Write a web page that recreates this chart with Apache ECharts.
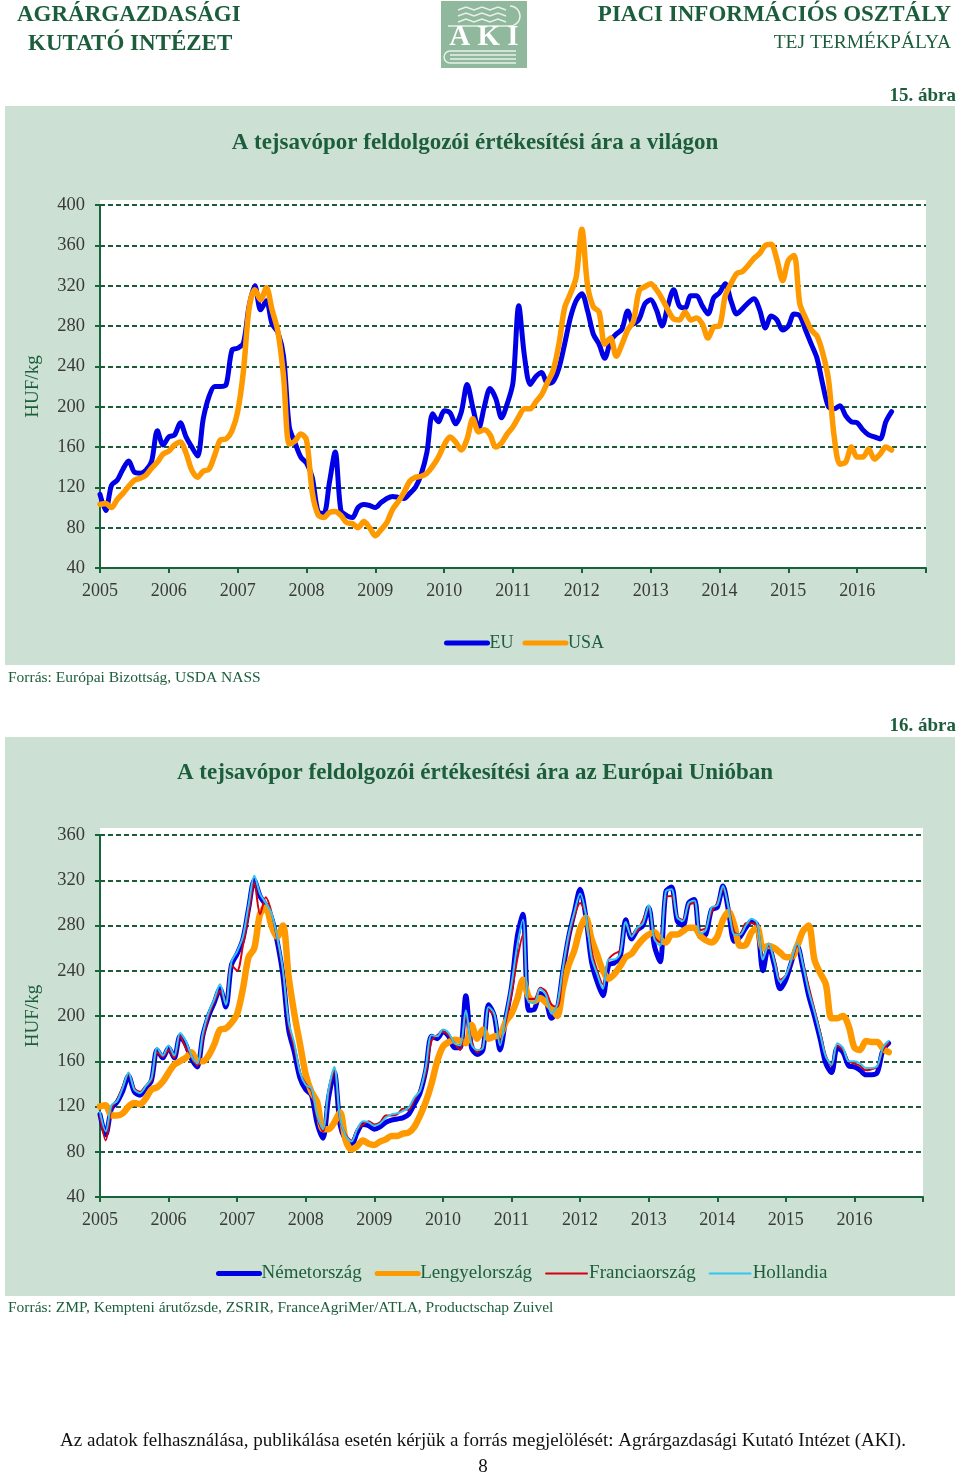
<!DOCTYPE html>
<html><head><meta charset="utf-8">
<script src="https://cdn.jsdelivr.net/npm/echarts@6/dist/echarts.min.js"></script>
<style>html,body{margin:0;padding:0;background:#fff}#c{width:960px;height:1476px}</style>
</head><body><div id="c"></div>
<script>
// ---- DATA (monthly, starting January 2005) ----
const startYear = 2005;
const yearLabels = [2005, 2006, 2007, 2008, 2009, 2010, 2011, 2012, 2013, 2014, 2015, 2016];

// Chart 15: world prices, HUF/kg
const euPrices = [
 113, 97, 122, 127, 138, 146, 135, 134, 137, 146, 176, 162,
 170, 172, 184, 170, 160, 151, 188, 210, 220, 220, 222, 256,
 258, 263, 300, 320, 296, 305, 282, 274, 250, 180, 164, 150,
 144, 130, 96, 94, 125, 155, 97, 92, 90, 100, 103, 102,
 100, 105, 109, 111, 110, 109, 114, 120, 133, 155, 193, 185,
 196, 194, 183, 195, 222, 199, 178, 200, 218, 208, 189, 203,
 224, 300, 250, 222, 230, 234, 223, 225, 238, 262, 288, 305,
 312, 295, 272, 262, 248, 265, 272, 277, 295, 282, 287, 302,
 306, 296, 280, 300, 316, 300, 298, 310, 310, 300, 292, 308,
 313, 322, 305, 292, 297, 303, 307, 296, 278, 290, 286, 276,
 280, 292, 290, 276, 262, 248, 222, 200, 198, 201, 191, 185,
 184, 177, 172, 170, 168, 185, 195
];
const usaPrices = [
 103, 104, 100, 108, 114, 121, 127, 129, 132, 139, 145, 153,
 156, 162, 165, 154, 137, 130, 136, 138, 152, 167, 168, 176,
 195, 235, 298, 316, 306, 318, 296, 275, 230, 163, 166, 173,
 167, 115, 93, 90, 95, 96, 92, 85, 84, 80, 86, 80,
 72, 78, 85, 98, 106, 115, 126, 130, 131, 134, 141, 150,
 162, 170, 165, 157, 168, 188, 175, 177, 172, 160, 164, 173,
 180, 190, 198, 198, 205, 212, 224, 236, 262, 298, 312, 328,
 376, 320, 299, 294, 262, 268, 250, 262, 276, 285, 315, 319,
 322, 316, 307, 296, 287, 286, 294, 286, 288, 282, 268, 279,
 280, 310, 322, 332, 334, 340, 347, 352, 360, 361, 346, 325,
 345, 350, 302, 288, 276, 270, 253, 227, 170, 143, 145, 160,
 150, 150, 158, 148, 153, 160, 157
];

// Chart 16: EU member state prices, HUF/kg
const germanyPrices = [
 113, 95, 118, 124, 134, 147, 133, 130, 136, 143, 170, 163,
 172, 163, 182, 175, 162, 155, 183, 200, 212, 224, 208, 245,
 255, 268, 295, 320, 306, 298, 287, 266, 236, 188, 168, 145,
 135, 130, 105, 92, 128, 150, 104, 90, 86, 97, 104, 103,
 100, 102, 106, 108, 109, 110, 113, 122, 132, 152, 182, 180,
 186, 182, 172, 172, 218, 172, 166, 170, 210, 200, 170, 198,
 226, 270, 290, 205, 206, 220, 214, 198, 206, 240, 270, 292,
 312, 288, 248, 230, 218, 245, 247, 252, 285, 268, 276, 280,
 296, 262, 248, 310, 314, 284, 280, 300, 303, 270, 272, 294,
 296, 315, 292, 266, 270, 278, 284, 280, 240, 262, 245, 224,
 232, 248, 262, 242, 218, 200, 180, 158, 150, 172, 168, 156,
 155, 152, 148, 148, 150, 170, 176
];
const polandPrices = [
 120, 121, 112, 112, 114, 120, 123, 122, 127, 135, 137, 142,
 150, 157, 160, 163, 168, 160, 160, 165, 175, 188, 189, 194,
 202, 224, 252, 260, 290, 296, 280, 270, 280, 235, 202, 175,
 148, 133, 124, 100, 100, 106, 115, 90, 82, 85, 90, 87,
 86, 89, 91, 94, 94, 96, 97, 102, 112, 124, 140, 160,
 173, 177, 179, 178, 176, 192, 180, 188, 180, 182, 183, 195,
 202, 215, 232, 217, 213, 216, 212, 207, 200, 225, 245, 258,
 277, 287, 268, 254, 240, 233, 237, 244, 252, 255, 262, 268,
 272, 274, 268, 265, 272, 272, 275, 278, 278, 271, 267, 265,
 270, 285, 292, 280, 262, 263, 274, 278, 260, 262, 260, 256,
 252, 252, 262, 275, 280, 250, 238, 228, 198, 198, 200, 191,
 172, 170, 178, 177, 177, 171, 168
];
const francePrices = [
 112, 90, 118, 126, 138, 148, 136, 133, 138, 143, 168, 164,
 170, 163, 182, 172, 165, 156, 180, 200, 213, 222, 212, 245,
 240, 262, 290, 318, 290, 305, 292, 268, 240, 192, 172, 150,
 140, 134, 110, 98, 132, 152, 108, 95, 90, 100, 104, 107,
 104, 106, 112, 112, 113, 118, 117, 126, 135, 150, 178, 183,
 186, 183, 176, 170, 200, 178, 168, 174, 205, 200, 178, 195,
 220, 250, 272, 215, 215, 225, 222, 210, 208, 240, 268, 288,
 300, 290, 258, 240, 228, 250, 255, 258, 282, 272, 275, 285,
 295, 270, 265, 305, 306, 288, 285, 298, 300, 276, 278, 292,
 300, 312, 296, 274, 272, 282, 282, 280, 252, 262, 250, 232,
 236, 248, 262, 246, 226, 206, 186, 165, 156, 174, 170, 160,
 158, 156, 152, 153, 155, 170, 176
];
const netherlandsPrices = [
 115, 98, 121, 125, 137, 150, 135, 132, 138, 145, 172, 165,
 174, 165, 185, 178, 165, 158, 185, 203, 215, 228, 210, 248,
 257, 270, 298, 324, 308, 300, 291, 270, 241, 195, 176, 150,
 139, 136, 112, 100, 135, 155, 110, 94, 89, 100, 107, 106,
 103, 105, 110, 113, 114, 116, 119, 128, 134, 155, 183, 182,
 188, 185, 176, 174, 205, 175, 170, 172, 208, 202, 174, 200,
 228, 262, 285, 212, 212, 224, 219, 202, 210, 243, 272, 292,
 308, 290, 252, 237, 224, 250, 250, 255, 283, 270, 278, 282,
 298, 268, 262, 310, 312, 287, 284, 300, 302, 273, 276, 296,
 298, 315, 295, 272, 272, 280, 286, 282, 250, 264, 248, 230,
 236, 250, 264, 245, 222, 204, 184, 164, 157, 176, 172, 160,
 160, 158, 154, 154, 156, 172, 178
];

// ---- helpers ----
function toPoints(arr) { return arr.map((v, i) => [startYear + i / 12, v]); }

const FONT = '"Liberation Serif", "Times New Roman", serif';
const DARK_GREEN = '#1c5e3c';
const AXIS_GREEN = '#17643c';
const LABEL_GRAY = '#3a3a3a';
const PANEL = '#cce0d3';
const C_BLUE = '#0000e6', C_ORANGE = '#ff9900', C_RED = '#d40010', C_CYAN = '#33c6f0';

function xAxisCfg(gridIndex) {
  return {
    type: 'value', gridIndex, min: 2005, max: 2017, interval: 1,
    axisLine: { show: true, lineStyle: { color: AXIS_GREEN, width: 2 } },
    axisTick: { show: true, inside: false, length: 5, lineStyle: { color: AXIS_GREEN, width: 2 } },
    axisLabel: {
      margin: 14, fontFamily: FONT, fontSize: 18, color: LABEL_GRAY,
      formatter: v => (yearLabels.indexOf(v) >= 0 ? String(v) : '')
    },
    splitLine: { show: false }
  };
}
function yAxisCfg(gridIndex, max) {
  return {
    type: 'value', gridIndex, min: 40, max: max, interval: 40,
    name: 'HUF/kg', nameLocation: 'middle', nameGap: 57, nameRotate: 90,
    nameTextStyle: { fontFamily: FONT, fontSize: 19, color: DARK_GREEN },
    axisLine: { show: true, lineStyle: { color: AXIS_GREEN, width: 2 } },
    axisTick: { show: true, inside: false, length: 5, lineStyle: { color: AXIS_GREEN, width: 2 } },
    axisLabel: { margin: 15, fontFamily: FONT, fontSize: 18.5, color: LABEL_GRAY },
    splitLine: { show: true, lineStyle: { color: '#1d5a3a', width: 2, type: [5, 3] } }
  };
}
function lineSeries(name, data, color, width, xi, yi) {
  return {
    name, type: 'line', xAxisIndex: xi, yAxisIndex: yi, data: toPoints(data),
    symbol: 'none', showSymbol: false, smooth: 0.3, animation: false,
    lineStyle: { color, width, cap: 'round', join: 'round' },
    itemStyle: { color }, emphasis: { disabled: true }
  };
}
function legendItem(name, color, width) {
  return { name, itemStyle: { opacity: 0 }, lineStyle: { color, width, cap: 'round' } };
}

const chart = echarts.init(document.getElementById('c'), null, { renderer: 'canvas' });

const graphics = [
  // header
  { type: 'text', left: 17, top: 4, style: { text: 'AGRÁRGAZDASÁGI', font: 'bold 23px ' + FONT, fill: DARK_GREEN } },
  { type: 'text', left: 28, top: 33, style: { text: 'KUTATÓ INTÉZET', font: 'bold 23px ' + FONT, fill: DARK_GREEN } },
  { type: 'text', right: 9, top: 4, style: { text: 'PIACI INFORMÁCIÓS OSZTÁLY', font: 'bold 23px ' + FONT, fill: DARK_GREEN } },
  { type: 'text', right: 9, top: 33, style: { text: 'TEJ TERMÉKPÁLYA', font: '19.5px ' + FONT, fill: DARK_GREEN } },
  // logo
  { type: 'rect', shape: { x: 441, y: 1, width: 86, height: 67 }, style: { fill: '#90b89c' } },
  { type: 'polyline', shape: { points: [[458, 10], [466, 7], [474, 10], [482, 7], [490, 10], [498, 7], [506, 10]] }, style: { stroke: '#e8f1ea', lineWidth: 1.5, fill: null } },
  { type: 'polyline', shape: { points: [[458, 16], [466, 13], [474, 16], [482, 13], [490, 16], [498, 13], [506, 16]] }, style: { stroke: '#e8f1ea', lineWidth: 1.5, fill: null } },
  { type: 'polyline', shape: { points: [[458, 22], [466, 19], [474, 22], [482, 19], [490, 22], [498, 19], [506, 22]] }, style: { stroke: '#e8f1ea', lineWidth: 1.5, fill: null } },
  { type: 'line', shape: { x1: 448, y1: 26, x2: 514, y2: 26 }, style: { stroke: '#e8f1ea', lineWidth: 1.5 } },
  { type: 'arc', shape: { cx: 510, cy: 16, r: 10, startAngle: -Math.PI / 2, endAngle: Math.PI / 2 }, style: { stroke: '#e8f1ea', lineWidth: 1.5, fill: null } },
  { type: 'text', x: 484, y: 38, style: { text: 'A K I', font: 'bold 29px ' + FONT, fill: '#ffffff', textAlign: 'center', textVerticalAlign: 'middle' } },
  { type: 'line', shape: { x1: 450, y1: 51, x2: 516, y2: 51 }, style: { stroke: '#e8f1ea', lineWidth: 1.5 } },
  { type: 'line', shape: { x1: 450, y1: 55, x2: 516, y2: 55 }, style: { stroke: '#e8f1ea', lineWidth: 1.5 } },
  { type: 'line', shape: { x1: 450, y1: 59, x2: 516, y2: 59 }, style: { stroke: '#e8f1ea', lineWidth: 1.5 } },
  { type: 'line', shape: { x1: 450, y1: 63, x2: 516, y2: 63 }, style: { stroke: '#e8f1ea', lineWidth: 1.5 } },
  { type: 'arc', shape: { cx: 450, cy: 57, r: 6, startAngle: Math.PI / 2, endAngle: 3 * Math.PI / 2 }, style: { stroke: '#e8f1ea', lineWidth: 1.5, fill: null } },

  // chart 15
  { type: 'text', right: 4, top: 87, style: { text: '15. ábra', font: 'bold 19px ' + FONT, fill: DARK_GREEN } },
  { type: 'rect', z: -10, shape: { x: 5, y: 106, width: 950, height: 559 }, style: { fill: PANEL } },
  { type: 'rect', z: -9, shape: { x: 100, y: 200, width: 826, height: 368 }, style: { fill: '#ffffff' } },
  { type: 'text', x: 475, y: 143, style: { text: 'A tejsavópor feldolgozói értékesítési ára a világon', font: 'bold 23px ' + FONT, fill: DARK_GREEN, textAlign: 'center', textVerticalAlign: 'middle' } },
  { type: 'text', left: 8, top: 670, style: { text: 'Forrás: Európai Bizottság, USDA NASS', font: '15.5px ' + FONT, fill: DARK_GREEN } },

  // chart 16
  { type: 'text', right: 4, top: 717, style: { text: '16. ábra', font: 'bold 19px ' + FONT, fill: DARK_GREEN } },
  { type: 'rect', z: -10, shape: { x: 5, y: 737, width: 950, height: 559 }, style: { fill: PANEL } },
  { type: 'rect', z: -9, shape: { x: 100, y: 828, width: 823, height: 369 }, style: { fill: '#ffffff' } },
  { type: 'text', x: 475, y: 773, style: { text: 'A tejsavópor feldolgozói értékesítési ára az Európai Unióban', font: 'bold 23px ' + FONT, fill: DARK_GREEN, textAlign: 'center', textVerticalAlign: 'middle' } },
  { type: 'text', left: 8, top: 1300, style: { text: 'Forrás: ZMP, Kempteni árutőzsde, ZSRIR, FranceAgriMer/ATLA, Productschap Zuivel', font: '15.5px ' + FONT, fill: DARK_GREEN } },

  // footer
  { type: 'text', x: 483, y: 1441, style: { text: 'Az adatok felhasználása, publikálása esetén kérjük a forrás megjelölését: Agrárgazdasági Kutató Intézet (AKI).', font: '19px ' + FONT, fill: '#111111', textAlign: 'center', textVerticalAlign: 'middle' } },
  { type: 'text', x: 483, y: 1467, style: { text: '8', font: '19px ' + FONT, fill: '#111111', textAlign: 'center', textVerticalAlign: 'middle' } }
];

const option = {
  animation: false,
  backgroundColor: '#ffffff',
  graphic: { elements: graphics },
  grid: [
    { left: 100, right: 34, top: 205, height: 363, containLabel: false },
    { left: 100, right: 37, top: 835, height: 362, containLabel: false }
  ],
  xAxis: [xAxisCfg(0), xAxisCfg(1)],
  yAxis: [yAxisCfg(0, 400), yAxisCfg(1, 360)],
  legend: [
    {
      data: [legendItem('EU', C_BLUE, 5), legendItem('USA', C_ORANGE, 5)],
      left: 444, top: 634, padding: 0,
      itemWidth: 41, itemHeight: 14, itemGap: 9,
      itemStyle: { opacity: 0 },
      textStyle: { fontFamily: FONT, fontSize: 18, color: DARK_GREEN, padding: [0, 0, 0, -3] },
      selectedMode: false
    },
    {
      data: [legendItem('Németország', C_BLUE, 5), legendItem('Lengyelország', C_ORANGE, 5),
             legendItem('Franciaország', C_RED, 2), legendItem('Hollandia', C_CYAN, 2)],
      left: 216, top: 1264, padding: 0,
      itemWidth: 41, itemHeight: 14, itemGap: 13,
      itemStyle: { opacity: 0 },
      textStyle: { fontFamily: FONT, fontSize: 19, color: DARK_GREEN, padding: [0, 0, 0, -3] },
      selectedMode: false
    }
  ],
  series: [
    lineSeries('EU', euPrices, C_BLUE, 5, 0, 0),
    lineSeries('USA', usaPrices, C_ORANGE, 5.5, 0, 0),
    lineSeries('Németország', germanyPrices, C_BLUE, 5, 1, 1),
    lineSeries('Lengyelország', polandPrices, C_ORANGE, 6.5, 1, 1),
    lineSeries('Franciaország', francePrices, C_RED, 2, 1, 1),
    lineSeries('Hollandia', netherlandsPrices, C_CYAN, 2, 1, 1)
  ]
};
chart.setOption(option);
</script>
</body></html>
